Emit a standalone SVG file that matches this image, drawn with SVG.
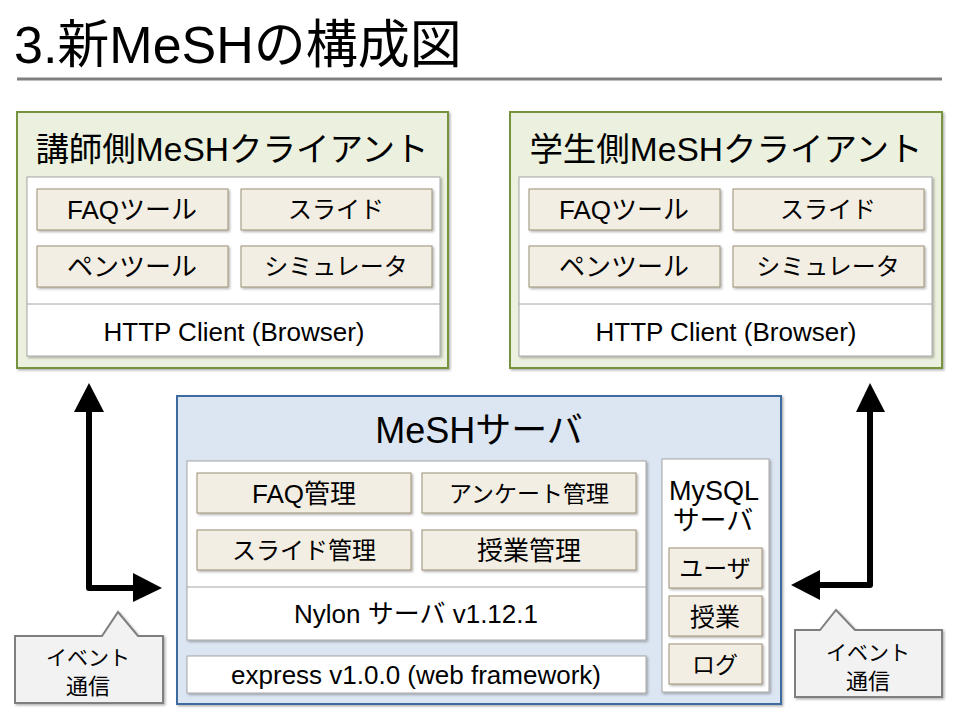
<svg xmlns="http://www.w3.org/2000/svg" width="960" height="720" viewBox="0 0 960 720">
<style>
text{font-family:"Liberation Sans","Noto Sans CJK JP",Arial,sans-serif;fill:#000;text-anchor:middle;}
.t24{font-size:24px;}
.t26{font-size:26px;}
.t23{font-size:24px;}
.client{fill:#ebf1de;stroke:#77933c;stroke-width:2;}
.server{fill:#dce6f2;stroke:#3e6a9f;stroke-width:2;}
.white{fill:#fff;stroke:#a6a6a6;stroke-width:1;}
.tan{fill:#f3eee3;stroke:#9a9075;stroke-width:1;}
.call{fill:#f2f2f2;stroke:#7f7f7f;stroke-width:2;}
.arrow{fill:none;stroke:#000;stroke-width:6;stroke-linejoin:round;}
.div{stroke:#a6a6a6;stroke-width:1;}
</style>
<defs>
<filter id="sh" x="-5%" y="-5%" width="110%" height="115%">
<feDropShadow dx="1.5" dy="1.5" stdDeviation="1" flood-color="#000" flood-opacity="0.3"/>
</filter>
</defs>
<rect width="960" height="720" fill="#fff"/>
<g id="title">
<text x="14" y="63" style="font-size:52px;text-anchor:start">3.新MeSHの構成図</text>
<line x1="17" y1="79" x2="942" y2="79" stroke="#7f7f7f" stroke-width="3"/>
</g>
<g id="teacher-client">
<rect class="client" x="17" y="112" width="431" height="256" filter="url(#sh)"/>
<text x="232" y="161" style="font-size:33.5px">講師側MeSHクライアント</text>
<rect class="white" x="27" y="177" width="413" height="179" filter="url(#sh)"/>
<line class="div" x1="27" y1="304" x2="440" y2="304"/>
<rect class="tan" x="37" y="189" width="191" height="41" filter="url(#sh)"/>
<rect class="tan" x="241" y="189" width="191" height="41" filter="url(#sh)"/>
<rect class="tan" x="37" y="246" width="191" height="41" filter="url(#sh)"/>
<rect class="tan" x="241" y="246" width="191" height="41" filter="url(#sh)"/>
<text class="t26" x="132" y="219">FAQツール</text>
<text class="t23" x="336" y="218">スライド</text>
<text class="t26" x="132" y="276">ペンツール</text>
<text class="t23" x="336" y="275">シミュレータ</text>
<text class="t26" x="234" y="341">HTTP Client (Browser)</text>
</g>
<g id="student-client">
<rect class="client" x="510" y="112" width="432" height="256" filter="url(#sh)"/>
<text x="726" y="161" style="font-size:33.5px">学生側MeSHクライアント</text>
<rect class="white" x="519" y="177" width="413" height="179" filter="url(#sh)"/>
<line class="div" x1="519" y1="304" x2="932" y2="304"/>
<rect class="tan" x="529" y="189" width="191" height="41" filter="url(#sh)"/>
<rect class="tan" x="733" y="189" width="191" height="41" filter="url(#sh)"/>
<rect class="tan" x="529" y="246" width="191" height="41" filter="url(#sh)"/>
<rect class="tan" x="733" y="246" width="191" height="41" filter="url(#sh)"/>
<text class="t26" x="624" y="219">FAQツール</text>
<text class="t23" x="828" y="218">スライド</text>
<text class="t26" x="624" y="276">ペンツール</text>
<text class="t23" x="828" y="275">シミュレータ</text>
<text class="t26" x="726" y="341">HTTP Client (Browser)</text>
</g>
<g id="mesh-server">
<rect class="server" x="177" y="396" width="604" height="308" filter="url(#sh)"/>
<text x="479" y="443" style="font-size:36px">MeSHサーバ</text>
<rect class="white" x="187" y="461" width="459" height="179" filter="url(#sh)"/>
<line class="div" x1="187" y1="587" x2="646" y2="587"/>
<rect class="tan" x="197" y="473" width="214" height="40" filter="url(#sh)"/>
<rect class="tan" x="422" y="473" width="214" height="40" filter="url(#sh)"/>
<rect class="tan" x="197" y="530" width="214" height="40" filter="url(#sh)"/>
<rect class="tan" x="422" y="530" width="214" height="40" filter="url(#sh)"/>
<text class="t26" x="304" y="503">FAQ管理</text>
<text x="529" y="502" style="font-size:23px">アンケート管理</text>
<text class="t24" x="304" y="559">スライド管理</text>
<text class="t26" x="529" y="560">授業管理</text>
<text class="t26" x="416" y="623">Nylon サーバ v1.12.1</text>
<rect class="white" x="187" y="656" width="459" height="37" filter="url(#sh)"/>
<text class="t26" x="416" y="684">express v1.0.0 (web framework)</text>
</g>
<g id="mysql-server">
<rect class="white" x="662" y="459" width="107" height="233" filter="url(#sh)"/>
<text x="714" y="500" style="font-size:27px">MySQL</text>
<text x="713" y="530" style="font-size:27px">サーバ</text>
<rect class="tan" x="669" y="548" width="93" height="40" filter="url(#sh)"/>
<rect class="tan" x="669" y="596" width="93" height="40" filter="url(#sh)"/>
<rect class="tan" x="669" y="644" width="93" height="40" filter="url(#sh)"/>
<text x="715" y="577" style="font-size:24px">ユーザ</text>
<text x="715" y="626" style="font-size:25px">授業</text>
<text x="715" y="673" style="font-size:23px">ログ</text>
</g>
<g id="connectors">
<path class="arrow" d="M89,410 V588 H135"/>
<polygon points="89,383 74,412 104,412"/>
<polygon points="162,588 133,573 133,602"/>
<path class="arrow" d="M870,410 V585 H818"/>
<polygon points="870,383 856,412 885,412"/>
<polygon points="791,585 820,570 820,600"/>
</g>
<g id="callout-left">
<path class="call" d="M15,636 H102 L118,612 L138,636 H163 V703 H15 Z" filter="url(#sh)"/>
<text x="88" y="665" style="font-size:21px">イベント</text>
<text x="88" y="694" style="font-size:22px">通信</text>
</g>
<g id="callout-right">
<path class="call" d="M795,630 H820 L836,610 L855,630 H942 V697 H795 Z" filter="url(#sh)"/>
<text x="868" y="660" style="font-size:21px">イベント</text>
<text x="868" y="689" style="font-size:22px">通信</text>
</g>
</svg>
